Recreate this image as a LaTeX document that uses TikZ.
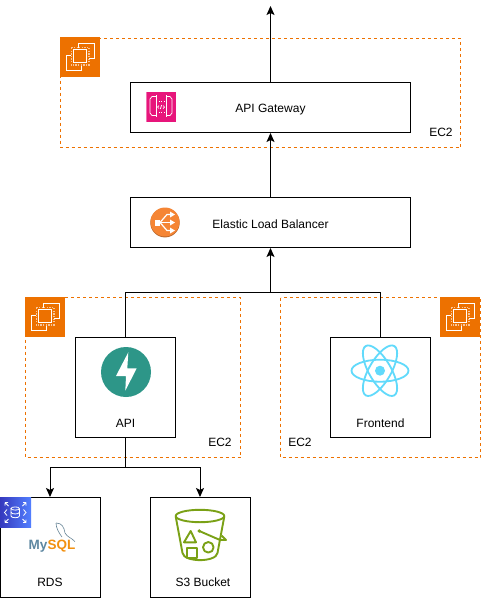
\documentclass[tikz,border=0pt]{standalone}
\usepackage{fontspec}
\setmainfont{Liberation Sans}
\usepackage{xcolor}
\usepackage{tikz}
\usetikzlibrary{arrows.meta}
\definecolor{ec2orange}{HTML}{ED7100}
\definecolor{gatewaypink}{HTML}{E7157B}
\definecolor{elborange}{HTML}{F58534}
\definecolor{fastteal}{HTML}{2D9688}
\definecolor{reactblue}{HTML}{61DAFB}
\definecolor{bucketgreen}{HTML}{7AA116}
\definecolor{mysqlblue}{HTML}{5D87A1}
\definecolor{mysqlorange}{HTML}{F29111}
\definecolor{rdslight}{HTML}{527FFF}
\definecolor{rdsdark}{HTML}{2E27AD}
\tikzset{
    svcbox/.style={draw=black,line width=1pt,fill=white,inner sep=0pt,font=\fontsize{12}{14}\selectfont},
    svclabel/.style={inner sep=0pt,font=\fontsize{12}{14}\selectfont},
    ec2zone/.style={draw=ec2orange,line width=1pt,dash pattern=on 3pt off 3pt},
    link/.style={draw=black,line width=1pt},
    flow/.style={link,-{Stealth[length=9pt,width=8pt,inset=2pt]}},
    ec2icon/.pic={
        \fill[ec2orange] (0,0) rectangle (40,40);
        \draw[white,line width=.9pt] (18.5,11) -- (18.5,6.5) -- (34,6.5) -- (34,21.5) -- (29,21.5);
        \draw[white,line width=.9pt] (11,18.5) -- (6.5,18.5) -- (6.5,33.5) -- (21.5,33.5) -- (21.5,28);
        \draw[white,line width=.9pt] (13.5,12.5) rectangle (26.5,25.5);
        \draw[white!60!ec2orange,line width=1.6pt,dash pattern=on 1.3pt off 1.3pt]
            (11.3,10.3) -- (28.7,10.3) -- (28.7,27.7) -- (11.3,27.7) -- cycle;
    },
}
\begin{document}
\begin{tikzpicture}[x=1pt,y=-1pt]
    \useasboundingbox (0,0) rectangle (481,598);

    % zones
    \draw[ec2zone] (60.5,38.5) rectangle (460.5,147.5);
    \draw[ec2zone] (25.5,297.5) rectangle (240.5,457.5);
    \draw[ec2zone] (280.5,297.5) rectangle (480.5,457.5);

    % boxes
    \node[svcbox,minimum width=280pt,minimum height=50pt,text height=9pt,text depth=0pt] (gatewayBox) at (270.5,107.5) {API Gateway};
    \node[svcbox,minimum width=280pt,minimum height=50pt,text height=11pt,text depth=0pt] (elbBox) at (270.5,222.5) {Elastic Load Balancer};
    \node[svcbox,minimum width=100pt,minimum height=100pt] (apiBox) at (125.5,387.5) {};
    \node[svcbox,minimum width=100pt,minimum height=100pt] (frontendBox) at (380.5,387.5) {};
    \node[svcbox,minimum width=100pt,minimum height=100pt] (rdsBox) at (50,547.5) {};
    \node[svcbox,minimum width=100pt,minimum height=100pt] (bucketBox) at (200,547.5) {};

    % connectors
    \coordinate (topEnd) at (270.5,6);
    \coordinate (elbFork) at (270.5,292.5);
    \coordinate (apiFork) at (125.5,467.5);
    \draw[flow] (gatewayBox.north) -- (topEnd);
    \draw[flow] (elbBox.north) -- (gatewayBox.south);
    \draw[flow] (elbFork) -- (elbBox.south);
    \draw[link] (apiBox.north) |- (elbFork);
    \draw[link] (frontendBox.north) |- (elbFork);
    \draw[link] (apiBox.south) -- (apiFork);
    \draw[flow] (apiFork) -| (rdsBox.north);
    \draw[flow] (apiFork) -| (bucketBox.north);

    % ec2 badges
    \pic at (60,37) {ec2icon};
    \pic at (25,297) {ec2icon};
    \pic at (440,297) {ec2icon};
    \node[svclabel] (gatewayZone) at (441,132) {EC2};
    \node[svclabel] (apiZone) at (220,442) {EC2};
    \node[svclabel] (frontendZone) at (300,442) {EC2};

    % gateway icon
    \fill[gatewaypink] (146,92) rectangle (176,122);
    \fill[white!40!gatewaypink] (146,92) rectangle (147,122);
    \begin{scope}[white,line width=.7pt]
        \draw (156,96.5) -- (152,96.5) -- (150,99) -- (150,113) -- (152,115.5) -- (156,115.5);
        \draw (166,96.5) -- (170,96.5) -- (172,99) -- (172,113) -- (170,115.5) -- (166,115.5);
        \draw[line width=1pt] (156,95) -- (156,117);
        \draw[line width=1pt] (166,95) -- (166,117);
        \draw[dotted] (156,101.5) -- (166,101.5);
        \draw[dotted] (156,112.5) -- (166,112.5);
        \draw (159,105.5) -- (157.5,107) -- (159,108.5);
        \draw (163,105.5) -- (164.5,107) -- (163,108.5);
        \draw (161.7,105) -- (160.3,109);
    \end{scope}

    % load balancer icon
    \fill[elborange!75!black] (165,222.7) circle (14.7);
    \fill[elborange] (165,222) circle (14.5);
    \begin{scope}[white,line width=1.2pt]
        \fill (155,219.5) rectangle (160,225.5);
        \draw (160,222.5) -- (167,214.5) -- (171,214.5);
        \draw (160,222.5) -- (171,222.5);
        \draw (160,222.5) -- (167,230.5) -- (171,230.5);
        \fill (170,211.5) -- (175,214.5) -- (170,217.5) -- cycle;
        \fill (170,219.5) -- (175,222.5) -- (170,225.5) -- cycle;
        \fill (170,227.5) -- (175,230.5) -- (170,233.5) -- cycle;
    \end{scope}

    % api
    \fill[fastteal] (126,372) circle (25);
    \fill[white] (128.3,352.3) -- (116,376) -- (126,376) -- (125.3,390.7) -- (136.7,368.3) -- (127.3,368.3) -- cycle;
    \node[svclabel] (apiLabel) at (125.5,423) {API};

    % frontend
    \begin{scope}[reactblue,line width=1.8pt]
        \draw (380,370.7) ellipse [x radius=28.5,y radius=11];
        \draw[rotate around={60:(380,370.7)}] (380,370.7) ellipse [x radius=28.5,y radius=11];
        \draw[rotate around={120:(380,370.7)}] (380,370.7) ellipse [x radius=28.5,y radius=11];
        \fill (380,370.7) circle (5);
    \end{scope}
    \node[svclabel] (frontendLabel) at (380.5,423) {Frontend};

    % rds
    \shade[shading=axis,shading angle=45,left color=rdsdark!80!rdslight,right color=rdslight]
        (0,497) rectangle (31,527);
    \begin{scope}[white,line width=.8pt]
        \draw (15.2,508.5) ellipse [x radius=4.2,y radius=1.6];
        \draw (11,508.5) -- (11,516) .. controls (11,518.3) and (19.4,518.3) .. (19.4,516) -- (19.4,508.5);
        \draw (11,512.3) .. controls (11,514.5) and (19.4,514.5) .. (19.4,512.3);
        \draw (7,509.5) -- (4.5,512.5) -- (7,515.5);
        \draw (23.5,509.5) -- (26,512.5) -- (23.5,515.5);
        \draw (5,502.5) -- (8,502.5) (5,502.5) -- (5,505.5) (5,502.5) -- (8.5,506);
        \draw (26,502.5) -- (23,502.5) (26,502.5) -- (26,505.5) (26,502.5) -- (22.5,506);
        \draw (5,522.5) -- (8,522.5) (5,522.5) -- (5,519.5) (5,522.5) -- (8.5,519);
        \draw (26,522.5) -- (23,522.5) (26,522.5) -- (26,519.5) (26,522.5) -- (22.5,519);
    \end{scope}
    \draw[mysqlblue!70!gray,line width=.6pt] (56,523) .. controls (62,523) and (64,527) .. (65,533)
        .. controls (67,537) and (72,538) .. (75,541.7);
    \draw[mysqlblue!70!gray,line width=.6pt] (56,523) .. controls (56,528) and (59,533) .. (62,537);
    \node[inner sep=0pt,font=\fontsize{13.5}{16}\selectfont\bfseries] (mysqlLabel) at (52,546.5)
        {\textcolor{mysqlblue}{My}\textcolor{mysqlorange}{SQL}};
    \node[svclabel] (rdsLabel) at (50,582.5) {RDS};

    % s3 bucket
    \begin{scope}[bucketgreen,line width=1.9pt,line join=round]
        \draw (200,516) ellipse [x radius=24.3,y radius=6.2];
        \draw (175.7,516.5) -- (182.5,553) .. controls (184,562.5) and (216,562.5) .. (217.5,553) -- (224.3,516.5);
        \draw (190.7,531) -- (184,542.3) -- (196,542.3) -- cycle;
        \draw (186.7,547.7) rectangle (197.3,557.7);
        \draw (208.3,547.3) circle (5.3);
        \draw (199.3,531) -- (220,540) -- (226,540) -- (221.7,535.7);
        \fill (199.3,531) circle (1.9);
    \end{scope}
    \node[svclabel] (bucketLabel) at (203,582.5) {S3 Bucket};
\end{tikzpicture}
\end{document}
